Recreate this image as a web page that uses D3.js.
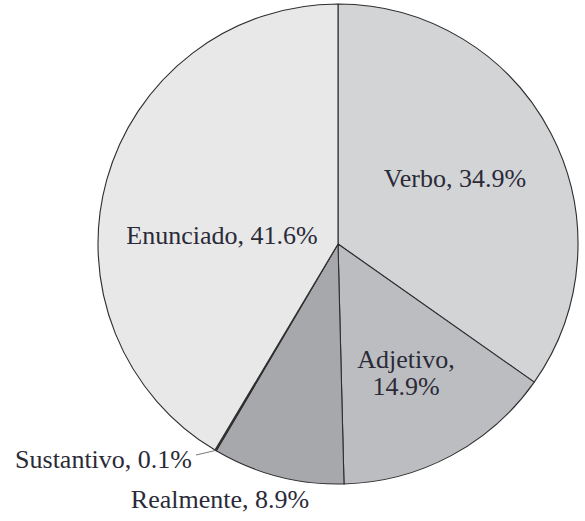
<!DOCTYPE html>
<html>
<head>
<meta charset="utf-8">
<script src="https://cdn.jsdelivr.net/npm/d3@7"></script>
<style>
  html, body { margin: 0; padding: 0; background: #fff; }
  svg { display: block; }
</style>
</head>
<body>
<svg id="chart" width="585" height="521"></svg>
<script>
// Data
const categories = ["Verbo", "Adjetivo", "Realmente", "Sustantivo", "Enunciado"];
const values = [34.9, 14.9, 8.9, 0.1, 41.6];
const labels = ["Verbo, 34.9%", "Adjetivo,|14.9%", "Realmente, 8.9%", "Sustantivo, 0.1%", "Enunciado, 41.6%"];

// Styling / layout (not data)
const colors = ["#d3d4d6", "#bcbdc0", "#a7a8ab", "#474747", "#e8e8e9"];
const W = 585, H = 521, cx = 338, cy = 244, R = 240;
// label anchors in px relative to pie centre
const labelLayout = [
  { x: 117, y: -57, anchor: "middle" },
  { x: 68, y: 124, anchor: "middle" },
  { x: -118, y: 264, anchor: "middle" },
  { x: -146, y: 224, anchor: "end", leader: true },
  { x: -116, y: 0, anchor: "middle" }
];

const svg = d3.select("#chart");
const g = svg.append("g").attr("transform", `translate(${cx},${cy})`);

const pie = d3.pie().sort(null).value(d => d.value);
const data = categories.map((c, i) => ({ name: c, value: values[i], label: labels[i], i }));
const arcs = pie(data);
const arc = d3.arc().innerRadius(0).outerRadius(R);

g.selectAll("path.slice")
  .data(arcs)
  .join("path")
  .attr("class", "slice")
  .attr("d", arc)
  .attr("fill", d => colors[d.data.i])
  .attr("stroke", "#2e2e2e")
  .attr("stroke-width", 1.1)
  .attr("stroke-linejoin", "round");

// labels
const fs = 26;
arcs.forEach(d => {
  const L = labelLayout[d.data.i];
  const lines = d.data.label.split("|");
  const t = g.append("text")
    .attr("x", L.x)
    .attr("y", L.y)
    .attr("text-anchor", L.anchor)
    .style("font-family", '"Liberation Serif"')
    .style("fill", "#2a2a38")
    .style("font-size", fs + "px");
  lines.forEach((ln, k) => {
    t.append("tspan").attr("x", L.x).attr("dy", k === 0 ? 0 : 27).text(ln);
  });
  if (L.leader) {
    const a = (d.startAngle + d.endAngle) / 2;
    const ex = Math.sin(a) * R, ey = -Math.cos(a) * R;
    g.append("line")
      .attr("x1", L.x + 4).attr("y1", L.y - 13)
      .attr("x2", ex).attr("y2", ey)
      .attr("stroke", "#555")
      .attr("stroke-width", 0.8);
  }
});
</script>
</body>
</html>
